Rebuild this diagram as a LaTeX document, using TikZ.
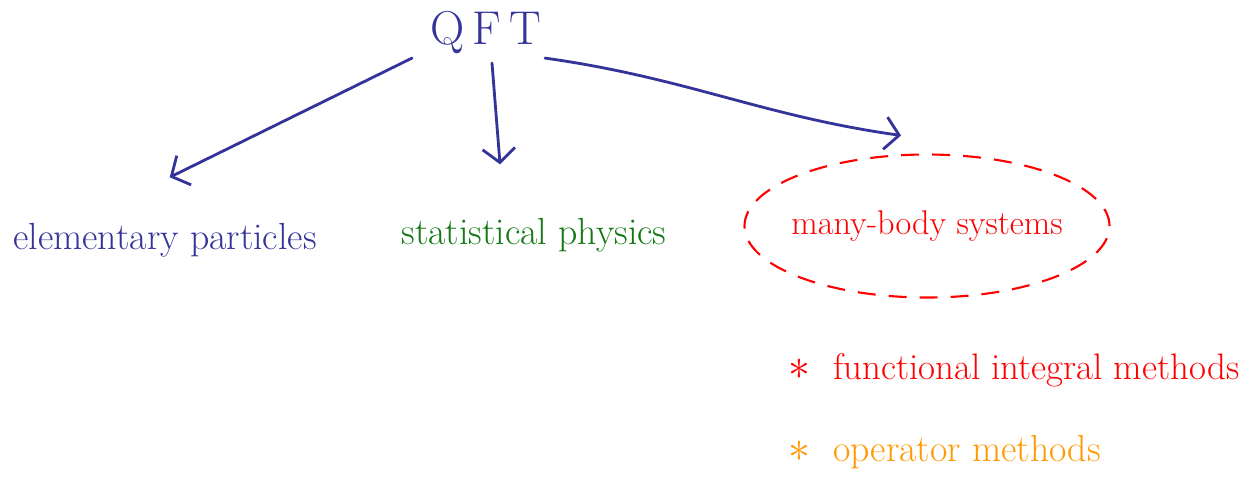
\documentclass[tikz,border=0pt]{standalone}
\usepackage{tikz}
\usetikzlibrary{arrows.meta, positioning, shapes.geometric}

\definecolor{inkblue}{RGB}{51,51,153}
\definecolor{inkgreen}{RGB}{20,120,20}
\definecolor{inkred}{RGB}{255,0,0}
\definecolor{inkorange}{RGB}{255,153,0}

\newcommand{\bigstar}{{\fontsize{30}{30}\selectfont$\ast$}\hspace{0.45cm}}

\begin{document}
\begin{tikzpicture}[
    label/.style={inner sep=2pt, font=\fontsize{21.5}{25}\selectfont},
    title/.style={inner sep=2pt, text=inkblue, font=\fontsize{27}{31}\selectfont},
    arrow/.style={-{Straight Barb[length=2.8mm,width=6.5mm]}, inkblue, line width=1.6pt,
                  line cap=round, shorten >=2pt}
]
\useasboundingbox (0,0) rectangle (25.02,-9.52);

% QFT and its three fields
\node[title] (qft) at (9.72,-0.66) {Q\,F\,T};
\node[label, text=inkblue] (particles) at (3.3,-4.8) {elementary particles};
\node[label, text=inkgreen] (statphys) at (10.68,-4.7) {statistical physics};
\node[label, text=inkred, font=\fontsize{19.5}{23}\selectfont, ellipse, draw=inkred,
      line width=1.2pt, dash pattern=on 0.36cm off 0.26cm, inner xsep=-0.3cm,
      minimum width=7.3cm, minimum height=2.86cm]
      (manybody) at (18.54,-4.52) {many-body systems};

% methods
\node[label, text=inkred, font=\fontsize{21}{25}\selectfont, anchor=west] (functional)
    at (15.7,-7.4) {\bigstar functional integral methods};
\node[label, text=inkorange, below=1.64 of functional.west, anchor=west]
    (operator) {\bigstar operator methods};

\draw[arrow, shorten >=1.9cm] ([xshift=-0.3cm]qft.south west)
    -- ([xshift=1.5cm]particles.north west);
\draw[arrow, shorten >=1.0cm] ([xshift=0.12cm,yshift=-0.1cm]qft.south)
    -- ([xshift=-0.6cm]statphys.north);
\draw[arrow] (qft.south east) to[out=-8, in=172]
    ([xshift=-0.45cm,yshift=0.35cm]manybody.north);

\end{tikzpicture}
\end{document}
